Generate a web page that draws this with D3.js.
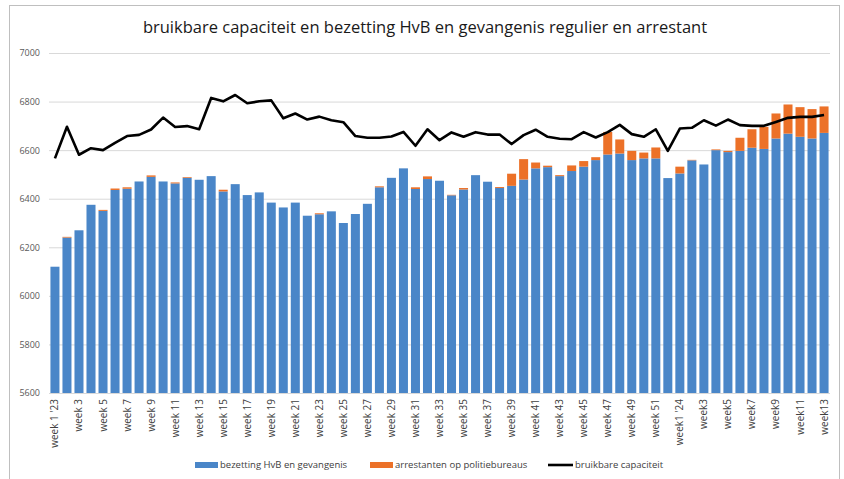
<!DOCTYPE html>
<html>
<head>
<meta charset="utf-8">
<script src="https://cdn.jsdelivr.net/npm/d3@7"></script>
<style>
  body { margin: 0; background: #fff; }
  svg { display: block; font-family: "Open Sans", sans-serif; }
</style>
</head>
<body>
<svg id="chart" width="844" height="479"></svg>
<script>
// weeks 2023 + first 13 weeks of 2024
const weeks = [
  "week 1 '23","week 2","week 3","week 4","week 5","week 6","week 7","week 8","week 9","week 10",
  "week 11","week 12","week 13","week 14","week 15","week 16","week 17","week 18","week 19","week 20",
  "week 21","week 22","week 23","week 24","week 25","week 26","week 27","week 28","week 29","week 30",
  "week 31","week 32","week 33","week 34","week 35","week 36","week 37","week 38","week 39","week 40",
  "week 41","week 42","week 43","week 44","week 45","week 46","week 47","week 48","week 49","week 50",
  "week 51","week 52","week1 '24","week2","week3","week4","week5","week6","week7","week8",
  "week9","week10","week11","week12","week13"
];

// bezetting HvB en gevangenis
const bezetting = [
  6120,6240,6270,6375,6350,6436,6441,6471,6490,6471,
  6463,6486,6478,6493,6430,6460,6415,6426,6384,6364,
  6384,6330,6336,6348,6300,6337,6379,6447,6486,6525,
  6440,6481,6474,6414,6438,6497,6470,6444,6453,6479,
  6525,6530,6493,6514,6532,6559,6582,6586,6559,6566,
  6566,6485,6504,6558,6541,6600,6592,6597,6610,6605,
  6648,6668,6655,6648,6671
];

// arrestanten op politiebureaus
const arrestanten = [
  0,3,0,0,4,6,6,0,6,0,
  4,3,0,0,7,0,0,0,0,0,
  0,0,4,0,0,0,0,4,0,0,
  7,11,0,2,6,0,0,4,50,84,
  24,6,4,23,23,12,93,58,38,24,
  45,0,28,2,0,3,5,54,76,91,
  103,120,122,121,109
];

// bruikbare capaciteit
const capaciteit = [
  6566,6696,6581,6608,6600,6630,6658,6663,6685,6734,
  6695,6699,6686,6815,6801,6827,6793,6801,6805,6731,
  6751,6726,6738,6723,6715,6658,6651,6651,6656,6675,
  6618,6686,6641,6673,6655,6674,6664,6664,6625,6662,
  6684,6655,6647,6645,6674,6652,6674,6704,6666,6655,
  6686,6597,6689,6692,6723,6701,6726,6703,6700,6700,
  6716,6733,6737,6737,6745
];

const yTicks = [5600,5800,6000,6200,6400,6600,6800,7000];
const keys = ["bezetting","arrestanten"];
const legendLabels = ["bezetting HvB en gevangenis","arrestanten op politiebureaus","bruikbare capaciteit"];

const tableData = weeks.map((w, i) => ({week: w, bezetting: bezetting[i], arrestanten: arrestanten[i], cap: capaciteit[i]}));

const svg = d3.select("#chart");
const plotLeft = 49, plotRight = 830, plotTop = 53, plotBottom = 393;

const x = d3.scaleBand().domain(weeks).range([plotLeft, plotRight]).paddingInner(0.25).paddingOuter(0.12);
const y = d3.scaleLinear().domain([5600, 7000]).range([plotBottom, plotTop]);
const color = d3.scaleOrdinal().domain(keys).range(["#4a86c8", "#ec7128"]);

// bars start at 0, axis starts at 5600 -> clip to the plot area
svg.append("defs").append("clipPath").attr("id", "plot-clip")
  .append("rect")
  .attr("x", plotLeft).attr("y", plotTop - 10)
  .attr("width", plotRight - plotLeft).attr("height", plotBottom - plotTop + 10);

// outer frame
svg.append("rect")
  .attr("x", 9.5).attr("y", 5.5).attr("width", 830).attr("height", 480)
  .attr("fill", "none").attr("stroke", "#bfbfbf").attr("stroke-width", 1);

// title
svg.append("text")
  .attr("x", 425).attr("y", 33)
  .attr("text-anchor", "middle")
  .attr("font-size", 16.5)
  .attr("fill", "#1a1a1a")
  .text("bruikbare capaciteit en bezetting HvB en gevangenis regulier en arrestant");

// gridlines + y axis
const yAxis = svg.append("g")
  .attr("transform", "translate(" + plotLeft + ",0)")
  .call(d3.axisLeft(y).tickValues(yTicks).tickSize(-(plotRight - plotLeft)).tickPadding(9).tickFormat(d3.format("d")));
yAxis.select(".domain").remove();
yAxis.selectAll("line").attr("stroke", "#d9d9d9");
yAxis.selectAll("text").attr("font-size", 9).attr("fill", "#595959").attr("font-family", "Open Sans, sans-serif");

// stacked bars
svg.append("g")
  .attr("clip-path", "url(#plot-clip)")
  .selectAll("g")
  .data(d3.stack().keys(keys)(tableData))
  .enter().append("g")
  .attr("fill", d => color(d.key))
  .selectAll("rect")
  .data(d => d)
  .enter().append("rect")
  .attr("x", d => x(d.data.week))
  .attr("y", d => y(d[1]))
  .attr("height", d => Math.max(0, y(d[0]) - y(d[1])))
  .attr("width", x.bandwidth());

// capacity line
svg.append("path")
  .datum(tableData)
  .attr("fill", "none")
  .attr("stroke", "#000")
  .attr("stroke-width", 2.6)
  .attr("stroke-linejoin", "round")
  .attr("d", d3.line().x(d => x(d.week) + x.bandwidth() / 2).y(d => y(d.cap)));

// x axis labels (every other week)
const xAxis = svg.append("g")
  .attr("transform", "translate(0," + plotBottom + ")")
  .call(d3.axisBottom(x).tickValues(weeks.filter((w, i) => i % 2 === 0)).tickSize(0));
xAxis.select(".domain").remove();
xAxis.selectAll("text")
  .attr("font-size", 10)
  .attr("fill", "#404040")
  .attr("font-family", "Open Sans, sans-serif")
  .attr("text-anchor", "end")
  .attr("transform", "rotate(-90)")
  .attr("x", -6).attr("y", 0).attr("dy", "0.35em");

// legend
const legend = svg.append("g").attr("font-size", 9.5).attr("fill", "#404040");
const legendX = [195, 370, 548];
legendLabels.forEach((lab, i) => {
  const g = legend.append("g").attr("transform", "translate(" + legendX[i] + ",465)");
  if (i < 2) {
    g.append("rect").attr("x", 0).attr("y", -3).attr("width", 23).attr("height", 6).attr("fill", color(keys[i]));
  } else {
    g.append("line").attr("x1", 0).attr("x2", 25).attr("stroke", "#000").attr("stroke-width", 2.6);
  }
  g.append("text").attr("x", i < 2 ? 25 : 27).attr("dy", "0.35em").attr("fill", "#404040").text(lab);
});
</script>
</body>
</html>
